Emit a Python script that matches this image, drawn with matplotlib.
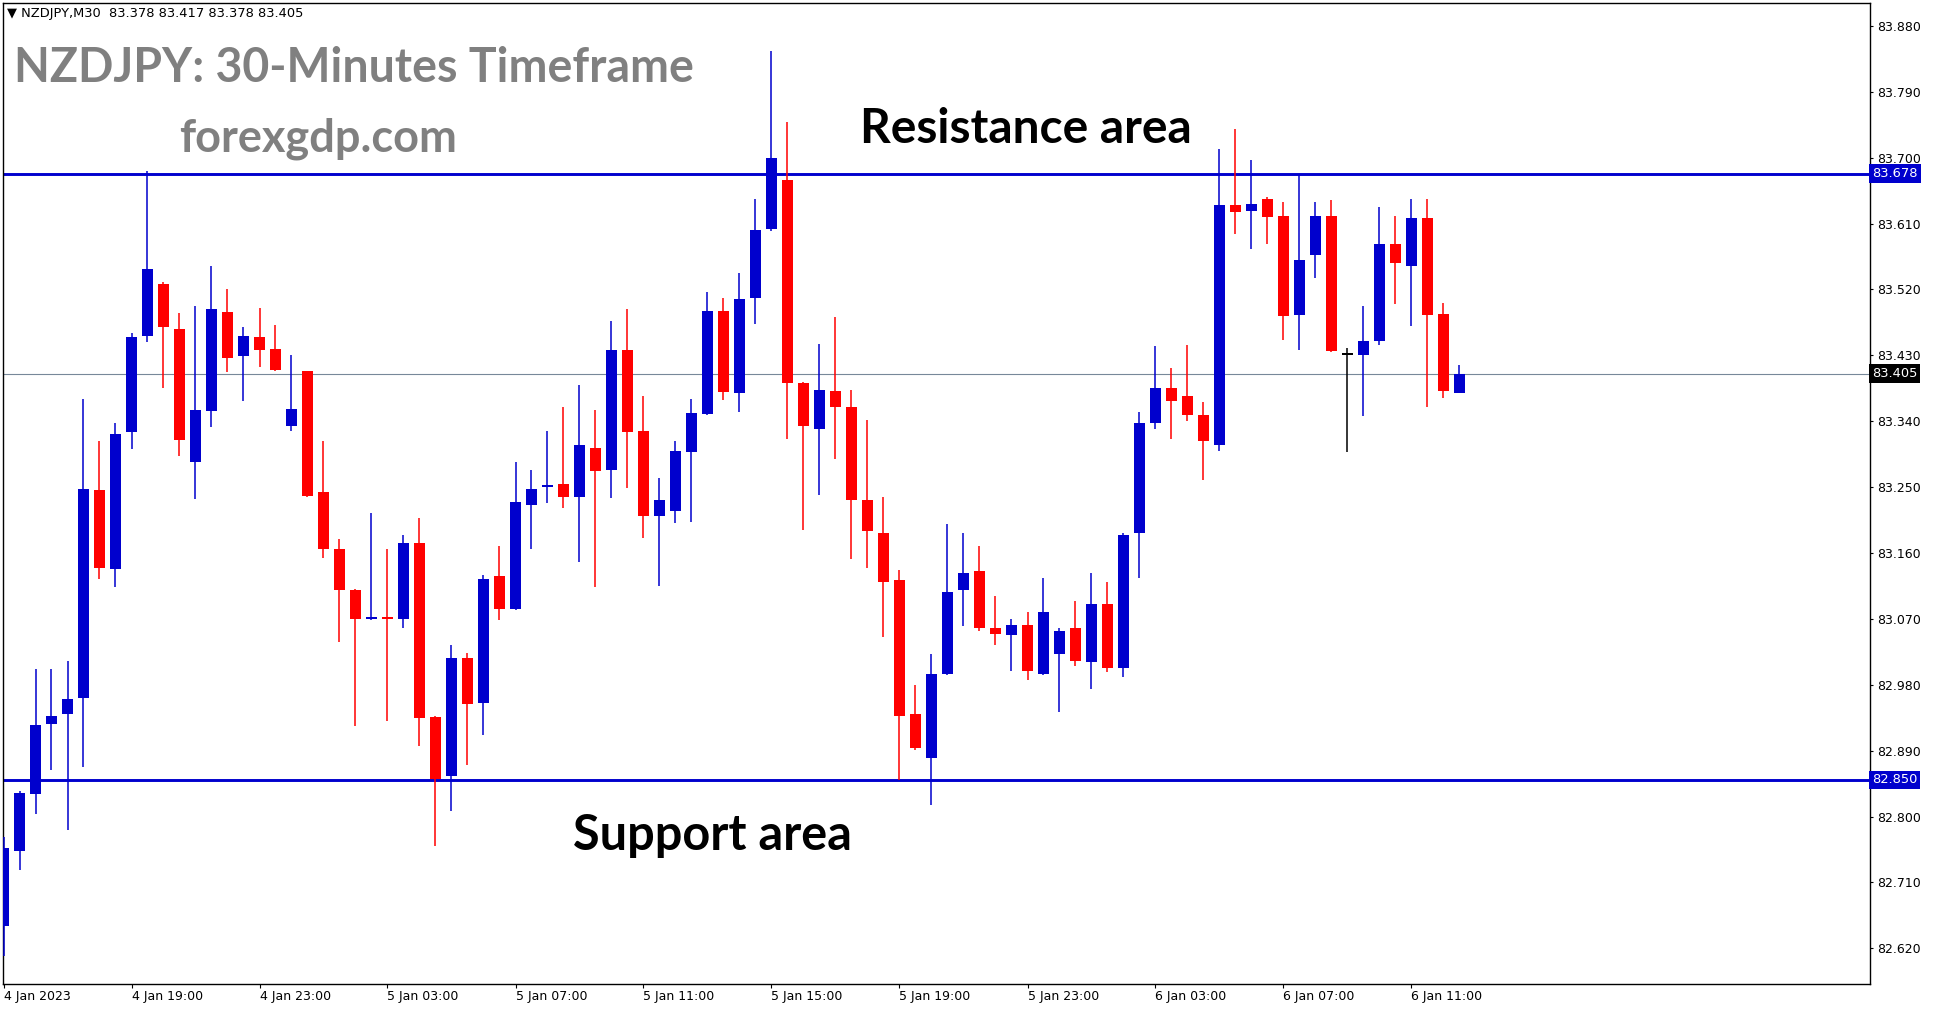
import numpy as np
import matplotlib
matplotlib.use("Agg")
import matplotlib.pyplot as plt

# NZDJPY M30 candles, 4 Jan 15:00 -> 6 Jan 12:30
opens = [82.651, 82.753, 82.831, 82.926, 82.940, 82.962, 83.246, 83.138, 83.325, 83.456,
         83.528, 83.466, 83.285, 83.354, 83.489, 83.429, 83.455, 83.439, 83.333, 83.408,
         83.244, 83.166, 83.110, 83.070, 83.072, 83.070, 83.173, 82.936, 82.856, 83.016,
         82.955, 83.129, 83.083, 83.226, 83.250, 83.254, 83.237, 83.304, 83.273, 83.438,
         83.326, 83.210, 83.217, 83.298, 83.350, 83.490, 83.379, 83.508, 83.602, 83.669,
         83.392, 83.329, 83.382, 83.360, 83.232, 83.187, 83.123, 82.940, 82.880, 82.995,
         83.109, 83.135, 83.058, 83.048, 83.061, 82.995, 83.022, 83.057, 83.011, 83.090,
         83.003, 83.188, 83.337, 83.386, 83.375, 83.348, 83.307, 83.636, 83.627, 83.643,
         83.620, 83.485, 83.567, 83.620, 83.431, 83.430, 83.450, 83.582, 83.552, 83.618,
         83.487, 83.378]
highs = [82.772, 82.835, 83.002, 83.002, 83.013, 83.371, 83.313, 83.338, 83.461, 83.682,
         83.530, 83.488, 83.498, 83.552, 83.520, 83.469, 83.495, 83.472, 83.431, 83.409,
         83.313, 83.179, 83.111, 83.215, 83.166, 83.185, 83.208, 82.937, 83.035, 83.024,
         83.130, 83.170, 83.284, 83.274, 83.327, 83.360, 83.389, 83.356, 83.477, 83.494,
         83.375, 83.263, 83.313, 83.371, 83.517, 83.509, 83.543, 83.644, 83.846, 83.749,
         83.393, 83.446, 83.483, 83.383, 83.342, 83.237, 83.137, 82.979, 83.022, 83.199,
         83.188, 83.169, 83.101, 83.070, 83.080, 83.126, 83.057, 83.095, 83.132, 83.121,
         83.188, 83.352, 83.443, 83.413, 83.444, 83.366, 83.712, 83.739, 83.697, 83.646,
         83.639, 83.676, 83.640, 83.642, 83.440, 83.497, 83.633, 83.621, 83.643, 83.643,
         83.501, 83.417]
lows = [82.610, 82.727, 82.803, 82.864, 82.782, 82.867, 83.124, 83.113, 83.302, 83.448,
        83.385, 83.292, 83.234, 83.332, 83.407, 83.367, 83.414, 83.409, 83.327, 83.237,
        83.153, 83.038, 82.924, 83.069, 82.931, 83.057, 82.896, 82.760, 82.807, 82.871,
        82.911, 83.069, 83.082, 83.165, 83.228, 83.222, 83.148, 83.113, 83.235, 83.249,
        83.180, 83.115, 83.201, 83.202, 83.349, 83.369, 83.352, 83.473, 83.600, 83.316,
        83.191, 83.239, 83.288, 83.152, 83.140, 83.045, 82.850, 82.891, 82.816, 82.994,
        83.060, 83.053, 83.035, 82.999, 82.987, 82.993, 82.943, 83.005, 82.974, 82.998,
        82.990, 83.126, 83.329, 83.316, 83.341, 83.260, 83.299, 83.596, 83.575, 83.582,
        83.451, 83.438, 83.536, 83.435, 83.298, 83.347, 83.444, 83.500, 83.470, 83.360,
        83.372, 83.378]
closes = [82.757, 82.832, 82.925, 82.937, 82.960, 83.248, 83.140, 83.323, 83.455, 83.548,
          83.469, 83.314, 83.355, 83.493, 83.427, 83.457, 83.437, 83.410, 83.357, 83.238,
          83.165, 83.109, 83.070, 83.072, 83.070, 83.174, 82.935, 82.851, 83.016, 82.954,
          83.124, 83.084, 83.229, 83.248, 83.252, 83.237, 83.307, 83.272, 83.438, 83.325,
          83.210, 83.232, 83.300, 83.351, 83.490, 83.380, 83.507, 83.601, 83.700, 83.392,
          83.334, 83.383, 83.359, 83.232, 83.190, 83.120, 82.938, 82.893, 82.995, 83.107,
          83.133, 83.057, 83.049, 83.062, 82.999, 83.080, 83.054, 83.012, 83.090, 83.003,
          83.185, 83.337, 83.386, 83.368, 83.348, 83.313, 83.635, 83.626, 83.637, 83.619,
          83.484, 83.560, 83.620, 83.436, 83.431, 83.449, 83.582, 83.556, 83.618, 83.485,
          83.381, 83.405]

price_ticks = [83.880, 83.790, 83.700, 83.610, 83.520, 83.430, 83.340, 83.250,
               83.160, 83.070, 82.980, 82.890, 82.800, 82.710, 82.620]
time_labels = ["4 Jan 2023", "4 Jan 19:00", "4 Jan 23:00", "5 Jan 03:00",
               "5 Jan 07:00", "5 Jan 11:00", "5 Jan 15:00", "5 Jan 19:00",
               "5 Jan 23:00", "6 Jan 03:00", "6 Jan 07:00", "6 Jan 11:00"]
resistance = 83.678
support = 82.850
last_price = 83.405

BLUE = "#0000CD"
RED = "#FF0000"

W, H = 1934, 1011
fig = plt.figure(figsize=(W / 100, H / 100), dpi=100)
fig.patch.set_facecolor("white")
left, right, top, bottom = 2.7, 1870.0, 2.7, 983.7
ax = fig.add_axes([left / W, 1 - bottom / H, (right - left) / W, (bottom - top) / H])

n = len(opens)
x = np.arange(n)
o = np.array(opens)
c = np.array(closes)
hi = np.array(highs)
lo = np.array(lows)

colors = np.where(c > o, BLUE, np.where(c < o, RED, "black"))

# wicks
ax.vlines(x, lo, hi, colors=colors, linewidth=1.1, zorder=3)
# bodies
body_low = np.minimum(o, c)
body_h = np.maximum(np.abs(c - o), 0.0025)
ax.bar(x, body_h, bottom=body_low, width=0.69, color=colors, linewidth=0, zorder=4)

# support / resistance / last price
ax.axhline(resistance, color=BLUE, linewidth=2.1, zorder=2)
ax.axhline(support, color=BLUE, linewidth=2.1, zorder=2)
ax.axhline(last_price, color="#778899", linewidth=0.8, zorder=1)

ax.set_xlim(-0.05, (right - 3.5) / 16)
ax.set_ylim(82.5716, 83.9118)

ax.yaxis.tick_right()
ax.set_yticks(price_ticks)
ax.set_yticklabels([f"{p:.3f}" for p in price_ticks])
ax.tick_params(axis="y", direction="out", length=2.2, width=0.8, pad=3, labelsize=9,
               colors="black")
ax.set_xticks(np.arange(0, 8 * len(time_labels), 8))
ax.set_xticklabels(time_labels, ha="left")
ax.tick_params(axis="x", direction="out", length=3, width=0.8, pad=1.5, labelsize=9)
for s in ax.spines.values():
    s.set_linewidth(1.0)
    s.set_color("black")

# price tags on the scale
tag = ax.get_yaxis_transform()
for val, fc in [(resistance, BLUE), (last_price, "black"), (support, BLUE)]:
    ax.text(1.0012, val, f"{val:.3f}", transform=tag, va="center", ha="left",
            fontsize=9.4, color="white", zorder=10, clip_on=False,
            bbox=dict(boxstyle="square,pad=0.22", fc=fc, ec="none"))

# header
fig.text(7 / W, 1 - 14 / H, "\u25bc NZDJPY,M30  83.378 83.417 83.378 83.405",
         fontsize=9.4, va="center", ha="left", color="black")

# annotations
fig.text(14 / W, 1 - 82 / H, "NZDJPY: 30-Minutes Timeframe", family="Lato",
         weight="bold", fontsize=33.5, color="#808080", va="baseline", ha="left")
fig.text(179 / W, 1 - 152 / H, "forexgdp.com", family="Lato",
         weight="bold", fontsize=32.5, color="#808080", va="baseline", ha="left")
fig.text(860 / W, 1 - 143 / H, "Resistance area", family="Lato",
         weight="bold", fontsize=34.5, color="black", va="baseline", ha="left")
fig.text(573 / W, 1 - 850 / H, "Support area", family="Lato",
         weight="bold", fontsize=35, color="black", va="baseline", ha="left")

fig.savefig("out.png", dpi=100, facecolor="white")
